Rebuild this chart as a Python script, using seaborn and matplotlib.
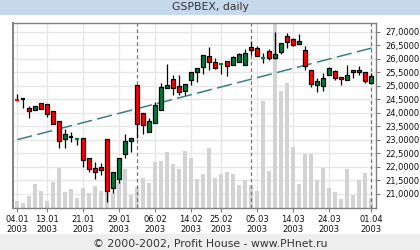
import numpy as np
import pandas as pd
import matplotlib
matplotlib.use("Agg")
import matplotlib.pyplot as plt
from matplotlib.patches import Rectangle
import seaborn as sns

# ---------------- data ----------------
opens = [24.49, 24.50, 24.19, 24.10, 24.37, 24.33, 24.05, 23.70, 23.02, 23.09,
         23.03, 23.07, 22.33, 21.96, 22.00, 23.03, 21.22, 21.56, 22.48, 22.96,
         25.04, 24.00, 23.27, 23.60, 24.11, 24.93, 25.23, 24.97, 24.80, 25.21,
         25.50, 25.69, 26.09, 25.86, 25.80, 25.93, 25.78, 25.87, 25.78, 26.42,
         26.38, 26.03, 26.27, 26.02, 26.23, 26.83, 26.74, 26.54, 26.33, 25.59,
         25.04, 24.99, 25.41, 25.56, 25.33, 25.21, 25.50, 25.50, 25.52, 25.11]
closes = [24.47, 24.50, 24.06, 24.26, 24.15, 23.96, 23.59, 22.96, 23.22, 23.09,
          23.05, 22.26, 21.93, 21.81, 21.89, 21.11, 21.81, 22.33, 22.96, 23.07,
          23.59, 23.56, 23.70, 24.27, 24.94, 25.01, 24.91, 24.76, 25.07, 25.52,
          25.67, 26.12, 25.87, 25.67, 25.82, 25.73, 26.05, 26.16, 26.22, 26.32,
          26.10, 26.05, 26.02, 26.19, 26.59, 26.63, 26.52, 26.67, 25.74, 25.07,
          25.16, 25.30, 25.67, 25.30, 25.24, 25.41, 25.59, 25.59, 25.19, 25.35]
highs = [24.68, 24.50, 24.23, 24.26, 24.37, 24.33, 24.05, 23.70, 23.38, 23.30,
         23.05, 23.07, 22.33, 22.17, 22.15, 23.03, 21.81, 22.33, 23.20, 23.07,
         25.04, 24.00, 23.81, 24.39, 25.10, 25.79, 25.39, 25.38, 25.07, 25.52,
         25.67, 26.12, 26.43, 26.01, 25.82, 25.93, 26.08, 26.21, 26.34, 26.65,
         26.47, 26.22, 26.34, 26.99, 26.59, 26.96, 26.78, 26.90, 26.48, 25.59,
         25.30, 25.47, 25.70, 25.59, 25.33, 25.76, 25.59, 25.73, 25.52, 25.48]
lows = [24.43, 24.17, 23.81, 24.10, 24.15, 23.84, 23.59, 22.70, 22.69, 22.91,
        22.81, 21.99, 21.80, 21.56, 21.68, 20.69, 21.02, 21.39, 22.32, 22.54,
        23.07, 23.22, 23.27, 23.60, 24.11, 24.93, 24.67, 24.67, 24.67, 25.04,
        25.13, 25.44, 25.59, 25.60, 25.44, 25.36, 25.78, 25.87, 25.78, 26.13,
        26.10, 25.84, 25.96, 26.00, 26.16, 26.38, 26.46, 26.54, 25.59, 24.95,
        24.76, 24.80, 25.41, 25.20, 25.02, 25.21, 25.28, 25.41, 25.11, 25.11]
volumes = [7, 5, 12, 24, 17, 7, 26, 40, 16, 19,
           10, 20, 15, 22, 17, 20, 15, 26, 39, 13,
           21, 30, 25, 46, 47, 56, 44, 39, 57, 50,
           29, 34, 60, 30, 34, 36, 34, 23, 28, 23,
           17, 107, 37, 200, 117, 125, 61, 24, 54, 54,
           28, 40, 20, 16, 9, 39, 13, 28, 35, 10]

tick_idx = [0, 5, 11, 17, 23, 29, 34, 40, 46, 52, 59]
tick_labels = ["04.01", "13.01", "21.01", "29.01", "06.02", "14.02",
               "25.02", "05.03", "14.03", "24.03", "01.04"]
tick_year = "2003"
month_starts = [20, 39, 59]
trend_x = [0, 59]
trend_y = [23.00, 26.39]
price_ticks = [21.0, 21.5, 22.0, 22.5, 23.0, 23.5, 24.0, 24.5,
               25.0, 25.5, 26.0, 26.5, 27.0]
title = "GSPBEX, daily"
footer = "\u00a9 2000-2002, Profit House - www.PHnet.ru"

# ---------------- style ----------------
sns.set_style("white")
plt.rcParams['font.family'] = ['DejaVu Sans']

W, H = 420, 250
fig = plt.figure(figsize=(W / 100, H / 100), dpi=100)
fig.patch.set_facecolor("white")

# header / footer bars
fig.patches.append(Rectangle((0, 1 - 14.7 / H), 1, 14.7 / H, transform=fig.transFigure,
                             facecolor="#c6d9ec", edgecolor="none", zorder=0))
fig.patches.append(Rectangle((0, 0), 1, 15.7 / H, transform=fig.transFigure,
                             facecolor="#eeeeee", edgecolor="none", zorder=0))
fig.text(0.5, 1 - 7.3 / H, title, ha="center", va="center", fontsize=7.8, color="#333333")
fig.text(0.5, 6.3 / H, footer, ha="center", va="center", fontsize=7.8, color="#333333")

left, right, top, bottom = 13.3, 375.7, 23.3, 208.3
rect = [left / W, 1 - bottom / H, (right - left) / W, (bottom - top) / H]
axv = fig.add_axes(rect)
ax = axv.twinx()
ax.set_zorder(axv.get_zorder() + 1)
ax.patch.set_visible(False)
axv.set_facecolor("white")
ax.xaxis.set_visible(True)

xlim = (-0.67, 59.73)
ylim = (20.456, 27.31)

n = len(opens)
idx = np.arange(n)
df = pd.DataFrame({"idx": idx, "volume": volumes})

# volume bars (background axis)
sns.barplot(data=df, x="idx", y="volume", native_scale=True, ax=axv,
            color="#d3d3d3", saturation=1, width=0.7, linewidth=0, zorder=2)
axv.set_ylim(0, bottom - top)
axv.set_xlim(*xlim)
axv.set_xlabel("")
axv.set_ylabel("")
axv.yaxis.set_visible(False)

# grid on background axis
for t in tick_idx:
    axv.axvline(t, color="#e6e6e6", lw=1, zorder=0)
for p in price_ticks:
    axv.plot(xlim, [p, p], transform=ax.transData, color="#e6e6e6", lw=1, zorder=0)

# price axis
ax.set_xlim(*xlim)
ax.set_ylim(*ylim)

for m in month_starts:
    ax.axvline(m, color="#777777", lw=0.9, ls=(0, (3, 2.2)), zorder=2)

sns.lineplot(x=trend_x, y=trend_y, ax=ax, color="#3a8080", lw=1.1,
             linestyle=(0, (10, 3.5)), zorder=3)

up_col, dn_col = "#007a3d", "#ff0000"
body_w = 0.7
for i in range(n):
    o, c, h, l = opens[i], closes[i], highs[i], lows[i]
    ax.vlines(i, l, h, color="black", lw=0.9, zorder=4)
    if abs(c - o) < 0.04:
        col = "black" if c == o else (up_col if c > o else dn_col)
        ax.hlines((o + c) / 2, i - body_w / 2, i + body_w / 2, color=col, lw=1.6, zorder=5)
    else:
        col = up_col if c > o else dn_col
        ax.bar(i, abs(c - o), bottom=min(o, c), width=body_w, color=col,
               edgecolor="black", linewidth=0.9, zorder=5)

ax.yaxis.tick_right()
ax.set_yticks(price_ticks)
ax.set_yticklabels([f"{p:.4f}".replace(".", ",") for p in price_ticks])
ax.set_xticks(tick_idx)
ax.set_xticklabels([f"{t}\n{tick_year}" for t in tick_labels])
ax.tick_params(axis="y", right=True, length=3, width=0.8, color="#808080",
               pad=4, labelsize=6.0, labelcolor="#111111")
ax.tick_params(axis="x", bottom=True, labelbottom=True, top=False, labeltop=False,
               length=3, width=0.8, color="#808080",
               pad=1.5, labelsize=6.0, labelcolor="#111111")
for lbl in ax.get_xticklabels():
    lbl.set_linespacing(1.25)
axv.tick_params(axis="x", bottom=False, labelbottom=False)
ax.set_xlabel("")
ax.set_ylabel("")

for sp in axv.spines.values():
    sp.set_visible(False)
for name, sp in ax.spines.items():
    sp.set_visible(True)
    sp.set_color("#808080")
    sp.set_linewidth(1.0)
ax.spines["left"].set_linewidth(1.4)

fig.savefig("out.png", dpi=100)
